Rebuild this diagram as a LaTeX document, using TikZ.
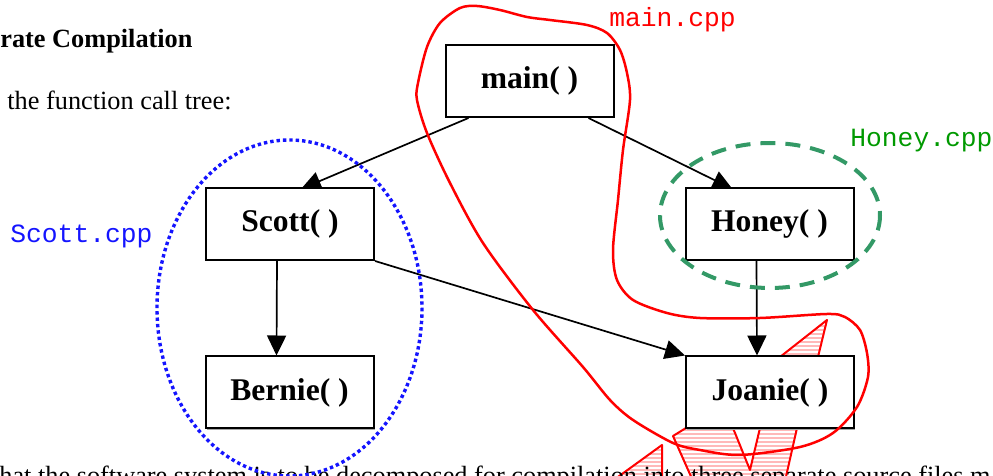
\documentclass[tikz,border=0pt]{standalone}
\usepackage{fontspec}
\setmainfont{Liberation Serif}
\setmonofont{Liberation Mono}
\usetikzlibrary{arrows.meta,calc,backgrounds,patterns.meta,shadows}
\definecolor{hgreen}{RGB}{51,153,102}
\definecolor{htext}{RGB}{0,153,0}
\definecolor{sblue}{RGB}{20,20,255}
\definecolor{pinkfill}{RGB}{255,185,185}
\begin{document}
\begin{tikzpicture}[x=0.5pt,y=-0.5pt,
  fbox/.style={draw=black,line width=1pt,fill=white,minimum width=84pt,minimum height=36pt,inner sep=0pt,
     drop shadow={shadow xshift=0.7pt,shadow yshift=-0.7pt,fill=gray!70,opacity=1},
     font=\fontsize{15.8}{18}\selectfont\bfseries},
  arr/.style={line width=0.85pt,-{Triangle[length=10pt,width=9.5pt]}},
  file/.style={font=\ttfamily\fontsize{13.15}{15}\selectfont,inner sep=0pt,anchor=base west},
  body/.style={font=\fontsize{13.15}{15}\selectfont,inner sep=0pt,anchor=base west},
  hatch/.style={draw=red,line width=1pt,line join=round,preaction={fill=pinkfill},pattern={Lines[angle=0,distance=2pt,line width=0.6pt]},pattern color=white}
]
\useasboundingbox (0,0) rectangle (993,476);
\clip (0,0) rectangle (993,476);

% texts
\node[body,font=\fontsize{13.15}{15}\selectfont\bfseries] (title) at (0,48) {rate Compilation};
\node[body] (intro) at (7,110) {the function call tree:};
\node[body] (bottom) at (-1,485) {hat the software system is to be decomposed for compilation into three separate source files m};

% boxes
\node[fbox] (main)   at (529.5,81)  {main( )};
\node[fbox] (Scott)  at (290,224)   {Scott( )};
\node[fbox] (Honey)  at (769.5,224) {Honey( )};
\node[fbox] (Bernie) at (289.5,392.5) {Bernie( )};
\node[fbox] (Joanie) at (770,392.5) {Joanie( )};

\begin{pgfonlayer}{background}
  % hatched shapes
  \path[hatch] (780,357) -- (827,320) -- (818,357) -- cycle;
  \path[hatch] (686,428) -- (673,436) -- (677,445) -- (697,490) -- (783,490) -- (797,428)
     -- (760,428) -- (750,470) -- (733,428) -- cycle;
  \path[hatch] (662,445) -- (662,495) -- (593,495) -- cycle;
  % connectors
  \draw[arr] ($(main.south west)+(24,0)$) -- ($(Scott.north west)+(96,2)$);
  \draw[arr] ($(main.south west)+(144,0)$) -- ($(Honey.north west)+(48,2)$);
  \draw[arr] ($(Scott.south west)+(72,0)$) -- ($(Bernie.north west)+(72,0)$);
  \draw[arr] ($(Honey.south west)+(72,0)$) -- ($(Joanie.north west)+(72,0)$);
  \draw[arr] (Scott.south east) -- (Joanie.north west);
\end{pgfonlayer}

% file groupings
\draw[sblue,line width=1.7pt,dash pattern=on 1.7pt off 1.5pt] (289.5,308) ellipse [x radius=132.5, y radius=168];
\draw[hgreen,line width=2pt,dash pattern=on 7.5pt off 5pt] (770,215.5) ellipse [x radius=110, y radius=72.5];
\draw[red,line width=1.25pt] plot[smooth cycle] coordinates {
 (740,455) (800,447) (833,433) (857,407) (868,377) (867,353) (860,330) (845,317)
 (827,314) (760,318) (700,318) (667,313) (633,300) (617,280) (613,250) (618,200)
 (623,150) (630,100) (627,73) (620,50) (607,33) (587,25) (550,20) (527,17)
 (500,10) (477,6) (460,8) (440,23) (427,47) (418,83) (417,100) (427,133)
 (450,183) (483,243) (533,310) (583,367) (610,400) (633,420) (673,443) (700,450)};

% file labels
\node[file,text=red] (maincpp) at (609,27) {main.cpp};
\node[file,text=htext] (honeycpp) at (850,147) {Honey.cpp};
\node[file,text=sblue] (scottcpp) at (10,243) {Scott.cpp};
\end{tikzpicture}
\end{document}
